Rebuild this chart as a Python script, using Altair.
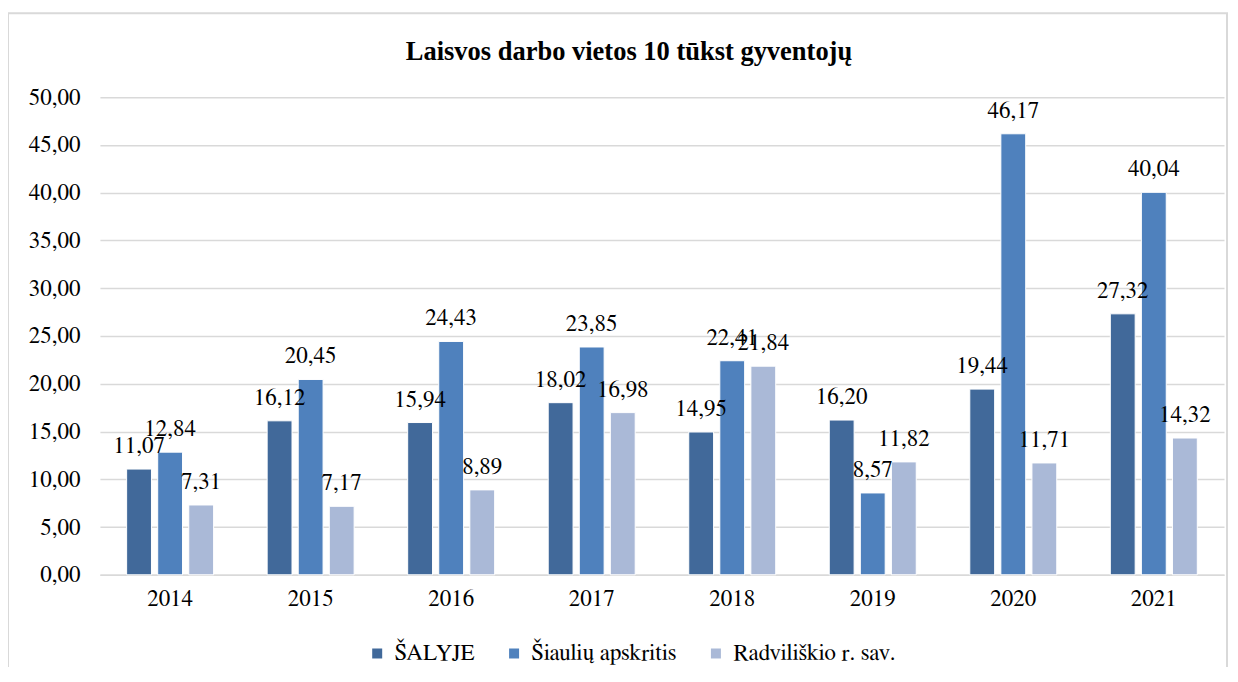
import altair as alt
import pandas as pd

years = ["2014", "2015", "2016", "2017", "2018", "2019", "2020", "2021"]
series = ["ŠALYJE", "Šiaulių apskritis", "Radviliškio r. sav."]
salyje = [11.07, 16.12, 15.94, 18.02, 14.95, 16.20, 19.44, 27.32]
siauliu = [12.84, 20.45, 24.43, 23.85, 22.41, 8.57, 46.17, 40.04]
radviliskio = [7.31, 7.17, 8.89, 16.98, 21.84, 11.82, 11.71, 14.32]
colors = ["#41699A", "#4F81BD", "#AAB9D7"]

rows = []
for name, vals in zip(series, [salyje, siauliu, radviliskio]):
    for y, v in zip(years, vals):
        rows.append({"year": y, "series": name, "value": v,
                     "label": f"{v:.2f}".replace(".", ",")})
df = pd.DataFrame(rows)

FONT = "FreeSerif"
TFONT = "Tinos"
FS = 23

x = alt.X("year:N", sort=years, title=None,
          scale=alt.Scale(paddingInner=0.381, paddingOuter=0.19),
          axis=alt.Axis(labelAngle=0, ticks=False, labelPadding=13, labelFontSize=FS,
                        labelFont=FONT, labelColor="#000000", domainColor="#d9d9d9",
                        domainWidth=1.5, grid=False))
xo = alt.XOffset("series:N", sort=series,
                 scale=alt.Scale(paddingInner=0.2, paddingOuter=0))
y = alt.Y("value:Q", title=None,
          scale=alt.Scale(domain=[0, 50], nice=False),
          axis=alt.Axis(values=list(range(0, 51, 5)), ticks=False, domain=False,
                        labelPadding=20, labelFontSize=FS, labelFont=FONT,
                        labelColor="#000000", gridColor="#d9d9d9", gridWidth=1.5,
                        labelExpr="replace(format(datum.value, '.2f'), '.', ',')"))

color = alt.Color("series:N", sort=series, title=None,
                  scale=alt.Scale(domain=series, range=colors),
                  legend=alt.Legend(orient="none", direction="horizontal",
                                    legendX=266, legendY=545, padding=0,
                                    symbolType="square", labelLimit=400,
                                    symbolSize=100, symbolStrokeWidth=0,
                                    labelFont=FONT, labelFontSize=FS,
                                    labelColor="#000000", columnPadding=27,
                                    labelOffset=6))

base = alt.Chart(df)
bars = base.mark_bar(stroke="white", strokeWidth=1).encode(
    x=x, xOffset=xo, y=y, color=color)
labels = base.mark_text(font=FONT, fontSize=FS, baseline="alphabetic", dy=-16,
                        color="#000000").encode(
    x=x, xOffset=xo, y=y, text="label:N")

frame = alt.Chart(pd.DataFrame({"a": [0]})).mark_rect(
    fill="#ffffff", fillOpacity=0, stroke="#d9d9d9", strokeWidth=2).encode(
    x=alt.value(-92), x2=alt.value(1128), y=alt.value(-84), y2=alt.value(620))

chart = alt.layer(frame, bars, labels).properties(
    width=1125, height=478,
    title=alt.TitleParams("Laisvos darbo vietos 10 tūkst gyventojų", font=TFONT,
                          fontSize=26.5, fontWeight="bold", color="#000000",
                          anchor="middle", dx=-33, offset=0, dy=74, baseline="alphabetic"),
    autosize=alt.AutoSizeParams(type="none"),
    padding={"left": 92, "top": 89, "right": 6, "bottom": 92},
).configure_view(stroke=None)

chart.save("out.html", embed_options={"renderer": "svg", "actions": False})
